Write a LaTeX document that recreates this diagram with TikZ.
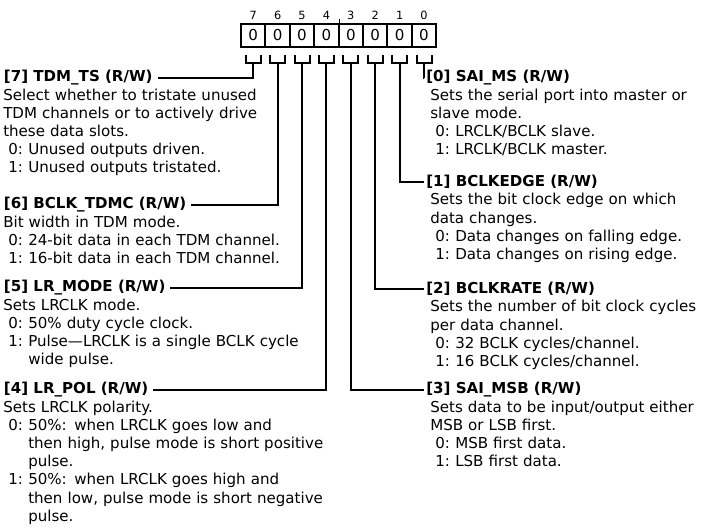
\documentclass[tikz,border=0pt]{standalone}
\usepackage{fontspec}
\setmainfont{DejaVu Sans}
\usepackage{tikz}
\usetikzlibrary{positioning}
\newcommand{\bitopt}[1]{\hspace*{3.75pt}\makebox[15pt][l]{#1}}
\newcommand{\bitcont}{\hspace*{18.75pt}}
\tikzset{
    txt/.style={font=\fontsize{11.3}{13.65}\selectfont},
    cell/.style={
        rectangle, draw=black, line width=1.5pt,
        minimum width=18.3pt, minimum height=17.25pt,
        inner sep=0pt, txt
    },
    bitnum/.style={inner sep=0pt, font=\fontsize{8.5}{9}\selectfont},
    field/.style={inner ysep=0pt, font=\fontsize{11.3}{13.65}\selectfont\bfseries},
    lfield/.style={field, anchor=west, inner xsep=3.5pt},
    rfield/.style={field, anchor=west, inner xsep=1.5pt},
    desc/.style={
        anchor=base west, inner sep=0pt, align=left,
        text width=260pt, txt
    },
    wire/.style={line width=1.5pt}
}
\begin{document}
\begin{tikzpicture}[x=0.75pt, y=-0.75pt]
    \useasboundingbox (0,0) rectangle (705,531);

    % Register cells, bit numbers and brackets
    \foreach \b [evaluate=\b as \x using {253.2+(7-\b)*24.4}] in {7,...,0} {
        \node[cell] (c\b) at (\x,35.5) {0};
        \node[bitnum] (n\b) at (\x,15) {\b};
        \draw[wire] ([shift={(-7.5,7)}]c\b.south) |- ([shift={(7.5,15)}]c\b.south)
            -- ([shift={(7.5,7)}]c\b.south);
        \coordinate (k\b) at ([shift={(0,15)}]c\b.south);
    }
    % nibble mark
    \draw[line width=0.9pt] (c4.north east) -- ++(0,-4);

    % Left fields
    \node[lfield] (f7) at (-1,78) {[7] TDM\_TS (R/W)};
    \node[desc] (d7) at ([xshift=3pt, yshift=-13.65pt]f7.base west)
        {Select whether to tristate unused\\
         TDM channels or to actively drive\\
         these data slots.\\
         \bitopt{0:}Unused outputs driven.\\
         \bitopt{1:}Unused outputs tristated.};

    \node[lfield] (f6) at (-1,205) {[6] BCLK\_TDMC (R/W)};
    \node[desc] (d6) at ([xshift=3pt, yshift=-13.65pt]f6.base west)
        {Bit width in TDM mode.\\
         \bitopt{0:}24-bit data in each TDM channel.\\
         \bitopt{1:}16-bit data in each TDM channel.};

    \node[lfield] (f5) at (-1,288) {[5] LR\_MODE (R/W)};
    \node[desc] (d5) at ([xshift=3pt, yshift=-13.65pt]f5.base west)
        {Sets LRCLK mode.\\
         \bitopt{0:}50\% duty cycle clock.\\
         \bitopt{1:}Pulse---LRCLK is a single BCLK cycle\\
         \bitcont wide pulse.};

    \node[lfield] (f4) at (-1,390) {[4] LR\_POL (R/W)};
    \node[desc] (d4) at ([xshift=3pt, yshift=-13.65pt]f4.base west)
        {Sets LRCLK polarity.\\
         \bitopt{0:}50\%: when LRCLK goes low and\\
         \bitcont then high, pulse mode is short positive\\
         \bitcont pulse.\\
         \bitopt{1:}50\%: when LRCLK goes high and\\
         \bitcont then low, pulse mode is short negative\\
         \bitcont pulse.};

    % Right fields
    \node[rfield] (f0) at (424,78) {[0] SAI\_MS (R/W)};
    \node[desc] (d0) at ([xshift=4.5pt, yshift=-13.65pt]f0.base west)
        {Sets the serial port into master or\\
         slave mode.\\
         \bitopt{0:}LRCLK/BCLK slave.\\
         \bitopt{1:}LRCLK/BCLK master.};

    \node[rfield] (f1) at (424,182) {[1] BCLKEDGE (R/W)};
    \node[desc] (d1) at ([xshift=4.5pt, yshift=-13.65pt]f1.base west)
        {Sets the bit clock edge on which\\
         data changes.\\
         \bitopt{0:}Data changes on falling edge.\\
         \bitopt{1:}Data changes on rising edge.};

    \node[rfield] (f2) at (424,289) {[2] BCLKRATE (R/W)};
    \node[desc] (d2) at ([xshift=4.5pt, yshift=-13.65pt]f2.base west)
        {Sets the number of bit clock cycles\\
         per data channel.\\
         \bitopt{0:}32 BCLK cycles/channel.\\
         \bitopt{1:}16 BCLK cycles/channel.};

    \node[rfield] (f3) at (424,390) {[3] SAI\_MSB (R/W)};
    \node[desc] (d3) at ([xshift=4.5pt, yshift=-13.65pt]f3.base west)
        {Sets data to be input/output either\\
         MSB or LSB first.\\
         \bitopt{0:}MSB first data.\\
         \bitopt{1:}LSB first data.};

    % Leaders
    \foreach \b in {7,6,5,4} {
        \draw[wire] (k\b) |- (f\b.east);
    }
    \foreach \b in {0,1,2,3} {
        \draw[wire] (k\b) |- (f\b.west);
    }
\end{tikzpicture}
\end{document}
